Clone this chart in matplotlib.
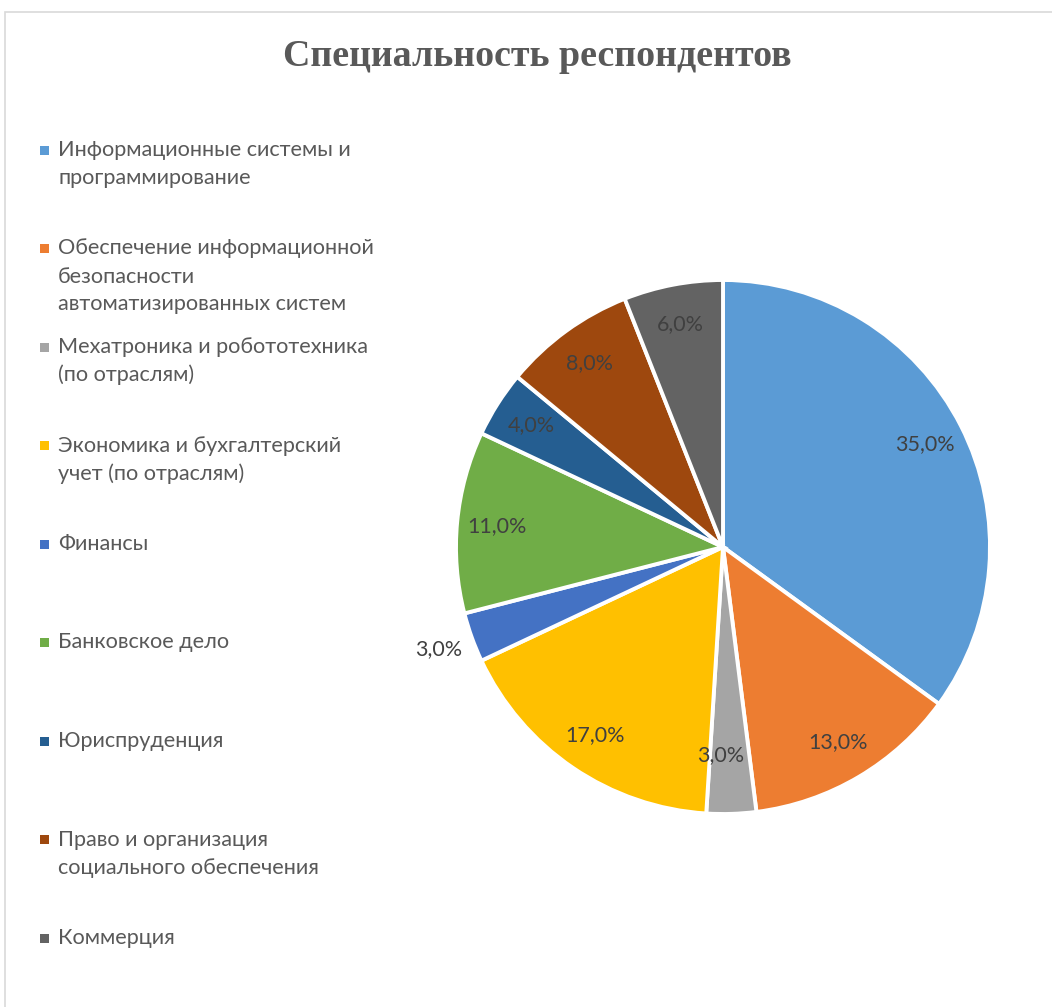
import numpy as np
import matplotlib
matplotlib.use("Agg")
import matplotlib.pyplot as plt
from matplotlib.patches import Rectangle

categories = [
    "Информационные системы и\nпрограммирование",
    "Обеспечение информационной\nбезопасности\nавтоматизированных систем",
    "Мехатроника и робототехника\n(по отраслям)",
    "Экономика и бухгалтерский\nучет (по отраслям)",
    "Финансы",
    "Банковское дело",
    "Юриспруденция",
    "Право и организация\nсоциального обеспечения",
    "Коммерция",
]
shares = [35.0, 13.0, 3.0, 17.0, 3.0, 11.0, 4.0, 8.0, 6.0]
colors = ["#5B9BD5", "#ED7D31", "#A5A5A5", "#FFC000", "#4472C4",
          "#70AD47", "#255E91", "#9E480E", "#636363"]

W, H = 1052, 1007
fig = plt.figure(figsize=(W / 100, H / 100), dpi=100)
fig.patch.set_facecolor("white")

# chart-area border
fig.patches.append(Rectangle((5 / W, -0.05), 1.1, (H - 12) / H + 0.05,
                             transform=fig.transFigure, fill=False,
                             edgecolor="#D9D9D9", linewidth=1.2))

fig.text(537 / W, 1 - 57 / H, "Специальность респондентов",
         ha="center", va="center", fontsize=27.3, fontweight="bold",
         family="Liberation Serif", color="#595959")

# pie
R = 267
cx, cy = 723, 547
lim = 1.2
side = 2 * R * lim
ax = fig.add_axes([(cx - side / 2) / W, (H - cy - side / 2) / H, side / W, side / H])
wedges, texts, autotexts = ax.pie(
    shares, colors=colors, startangle=90, counterclock=False,
    autopct=lambda p: f"{p:.1f}%".replace(".", ","), pctdistance=0.85,
    wedgeprops=dict(edgecolor="white", linewidth=2.8),
    textprops=dict(fontsize=15.5, family="Lato", color="#404040"),
)
ax.set_xlim(-lim, lim)
ax.set_ylim(-lim, lim)
ax.set_aspect("equal")
ax.axis("off")

def place(t, w, r, dang=0.0):
    a = np.deg2rad((w.theta1 + w.theta2) / 2 + dang)
    t.set_position((r * np.cos(a), r * np.sin(a)))

place(autotexts[2], wedges[2], 0.78, -2.5)
place(autotexts[4], wedges[4], 1.13)

# legend, drawn by hand to match spacing
y0 = 150
step = 98.5
lh = 28
for i, (lab, c) in enumerate(zip(categories, colors)):
    yc = y0 + i * step
    fig.patches.append(Rectangle((40 / W, 1 - (yc + 4.5) / H), 9 / W, 9 / H,
                                 transform=fig.transFigure, facecolor=c,
                                 edgecolor="none"))
    for k, line in enumerate(lab.split("\n")):
        fig.text(58 / W, 1 - (yc + k * lh) / H, line, ha="left", va="center",
                 fontsize=15.6, family="Lato", color="#595959")

fig.savefig("out.png", dpi=100)
